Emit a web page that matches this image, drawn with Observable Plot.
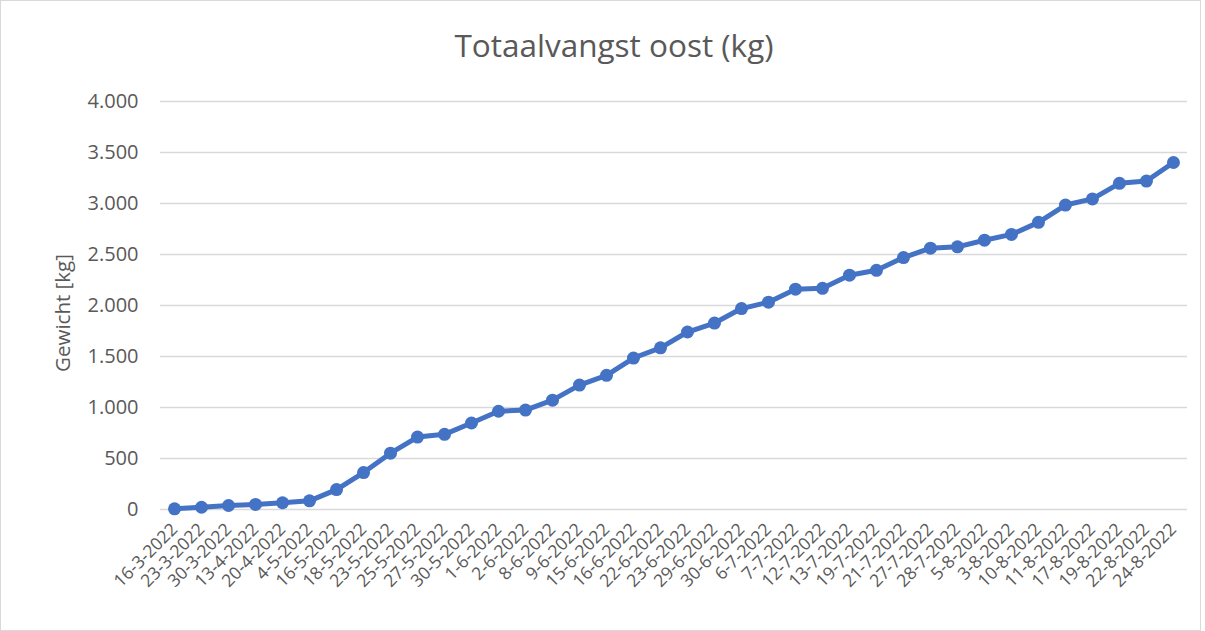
<!DOCTYPE html>
<html><head><meta charset="utf-8">
<script src="https://cdn.jsdelivr.net/npm/d3@7"></script>
<script src="https://cdn.jsdelivr.net/npm/@observablehq/plot@0.6"></script>
<style>
body{margin:0;background:#fff;}
#wrap{position:relative;width:1205px;height:631px;overflow:hidden;font-family:"Open Sans", sans-serif;}
#title{position:absolute;left:0;width:1228px;top:24px;text-align:center;font-size:31.5px;color:#595959;line-height:42px;}
#frame{position:absolute;left:0;top:0;width:1199px;height:629px;border:1px solid #d9d9d9;box-sizing:content-box;}
#ylab{position:absolute;left:62px;top:313px;transform:translate(-50%,-50%) rotate(-90deg);font-size:20.5px;color:#595959;white-space:nowrap;}
#chart{position:absolute;left:0;top:0;}
</style></head><body>
<div id="wrap"><div id="frame"></div><div id="chart"></div><div id="title">Totaalvangst oost (kg)</div><div id="ylab">Gewicht [kg]</div></div>
<script>
const dates = ["16-3-2022","23-3-2022","30-3-2022","13-4-2022","20-4-2022","4-5-2022","16-5-2022","18-5-2022","23-5-2022","25-5-2022","27-5-2022","30-5-2022","1-6-2022","2-6-2022","8-6-2022","9-6-2022","15-6-2022","16-6-2022","22-6-2022","23-6-2022","29-6-2022","30-6-2022","6-7-2022","7-7-2022","12-7-2022","13-7-2022","19-7-2022","21-7-2022","27-7-2022","28-7-2022","5-8-2022","3-8-2022","10-8-2022","11-8-2022","17-8-2022","19-8-2022","22-8-2022","24-8-2022"];
const kg = [7,22,39,50,66,85,195,362,552,710,737,848,963,975,1072,1220,1315,1485,1585,1740,1828,1970,2033,2160,2168,2297,2345,2470,2562,2575,2640,2697,2815,2985,3045,3198,3220,3402];
const yTicks = [0,500,1000,1500,2000,2500,3000,3500,4000];

const data = dates.map((d,i)=>({date:d, kg:kg[i]}));
const nl = d3.formatLocale({decimal:",", thousands:".", grouping:[3], currency:["€",""]});
const fmt = nl.format(",");

const chart = Plot.plot({
  width:1205, height:631,
  marginLeft:160, marginRight:18, marginTop:101, marginBottom:122,
  style:{fontFamily:"'Open Sans', sans-serif", fontSize:"16px", color:"#595959", background:"transparent", overflow:"visible"},
  x:{type:"point", domain:dates, padding:0.52, label:null},
  y:{domain:[0,4000], label:null},
  marks:[
    Plot.gridY(yTicks,{stroke:"#d9d9d9", strokeOpacity:1, strokeWidth:1.5}),
    Plot.axisY(yTicks,{tickSize:0, tickPadding:22, tickFormat:fmt, fontSize:20, fill:"#595959", label:null}),
    Plot.axisX({tickSize:0, tickRotate:-45, tickPadding:17, fontSize:17.5, fill:"#595959", label:null}),
    Plot.line(data,{x:"date", y:"kg", stroke:"#4472C4", strokeWidth:5}),
    Plot.dot(data,{x:"date", y:"kg", r:6.5, fill:"#4472C4"})
  ]
});
document.getElementById("chart").appendChild(chart);
</script>
</body></html>
